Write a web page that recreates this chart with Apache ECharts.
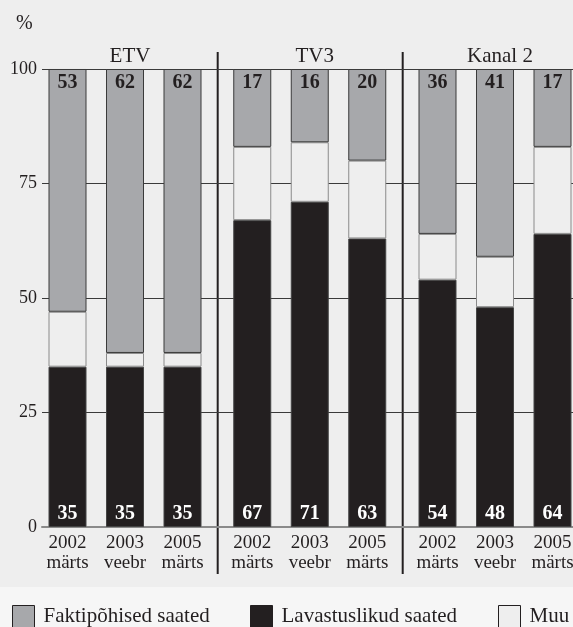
<!DOCTYPE html>
<html>
<head>
<meta charset="utf-8">
<script src="https://cdn.jsdelivr.net/npm/echarts@6/dist/echarts.min.js"></script>
<style>
  html, body { margin: 0; padding: 0; background: #eeeeee; overflow: hidden; }
  /* a bit wider than the window: the original figure is cut off at the right */
  #chart { width: 584px; height: 627px; }
</style>
</head>
<body>
<div id="chart"></div>
<script>
var channels = ['ETV', 'TV3', 'Kanal 2'];
var periods = ['2002\nmärts', '2003\nveebr', '2005\nmärts'];
var yTicks = [0, 25, 50, 75, 100];
// one row per channel
var fakti = [[53, 62, 62], [17, 16, 20], [36, 41, 17]];
var lavastus = [[35, 35, 35], [67, 71, 63], [54, 48, 64]];
var muu = [[12, 3, 3], [16, 13, 17], [10, 11, 19]];

var seriesNames = ['Faktipõhised saated', 'Lavastuslikud saated', 'Muu'];
var serif = '"Liberation Serif", "Times New Roman", serif';
var ink = '#231f20';
var grey = '#a7a8ab';
var bg = '#eeeeee';

var chart = echarts.init(document.getElementById('chart'));

var groupLeft = [38.75, 223.5, 408.75];
var groupWidth = 172.5;

var grids = [{ left: 42, right: 0, top: 69, bottom: 100 }];
var xAxes = [{
    gridIndex: 0, type: 'value', min: 0, max: 1,
    axisLabel: { show: false }, axisTick: { show: false }, splitLine: { show: false },
    axisLine: { show: true, lineStyle: { color: '#8a8a8a', width: 2 } }
}];
var yAxes = [{
    gridIndex: 0, type: 'value', min: 0, max: 100, interval: 25,
    axisLine: { show: false }, axisTick: { show: false },
    axisLabel: { color: ink, fontFamily: serif, fontSize: 18, margin: 5,
        formatter: function (v) { return yTicks.indexOf(v) >= 0 ? v : ''; } },
    splitLine: { show: true, lineStyle: { color: '#3a3a3a', width: 1 } }
}];
var series = [];
var titles = [{ text: '%', left: 11, top: 9, textStyle: { fontFamily: serif, fontSize: 20, fontWeight: 'normal', color: ink } }];

channels.forEach(function (ch, i) {
    var g = i + 1;
    grids.push({ left: groupLeft[i], width: groupWidth, top: 69, bottom: 100 });
    xAxes.push({
        gridIndex: g, type: 'category', data: periods,
        axisLine: { show: false }, axisTick: { show: false },
        axisLabel: { interval: 0, color: ink, fontFamily: serif, fontSize: 19, lineHeight: 20, margin: 6 }
    });
    yAxes.push({ gridIndex: g, type: 'value', min: 0, max: 100, show: false });
    titles.push({
        text: ch, left: groupLeft[i] + groupWidth / 2, top: 41, textAlign: 'center',
        textStyle: { fontFamily: serif, fontSize: 21, fontWeight: 'normal', color: ink }
    });

    series.push({
        name: seriesNames[1], type: 'bar', stack: 's' + i, xAxisIndex: g, yAxisIndex: g,
        barWidth: 38, data: lavastus[i],
        itemStyle: { color: ink, borderColor: '#444', borderWidth: 1 },
        label: { show: true, position: 'insideBottom', distance: 3, color: '#fff',
            fontFamily: serif, fontWeight: 'bold', fontSize: 20 }
    });
    series.push({
        name: seriesNames[2], type: 'bar', stack: 's' + i, xAxisIndex: g, yAxisIndex: g,
        barWidth: 38, data: muu[i],
        itemStyle: { color: bg, borderColor: '#8a8a8a', borderWidth: 1 }
    });
    series.push({
        name: seriesNames[0], type: 'bar', stack: 's' + i, xAxisIndex: g, yAxisIndex: g,
        barWidth: 38, data: fakti[i],
        itemStyle: { color: grey, borderColor: '#3a3a3a', borderWidth: 1 },
        label: { show: true, position: 'insideTop', distance: 4, color: ink,
            fontFamily: serif, fontWeight: 'bold', fontSize: 20 }
    });
});

var legendLeft = [12, 250, 498];
var legendColors = [grey, ink, bg];
var legends = seriesNames.map(function (n, i) {
    return {
        data: [n], left: legendLeft[i], top: 605, padding: 0,
        icon: 'rect', itemWidth: 22, itemHeight: 22, selectedMode: false,
        itemStyle: { color: legendColors[i], borderColor: ink, borderWidth: 1 },
        textStyle: { fontFamily: serif, fontSize: 21, color: ink, padding: [0, 0, 0, 4] }
    };
});

option = {
    backgroundColor: bg,
    animation: false,
    title: titles,
    legend: legends,
    grid: grids,
    xAxis: xAxes,
    yAxis: yAxes,
    series: series,
    graphic: [
        { type: 'rect', z: -10, shape: { x: 0, y: 587, width: 584, height: 40 }, style: { fill: '#f6f6f6' } },
        { type: 'line', shape: { x1: 217.7, y1: 52, x2: 217.7, y2: 574 }, style: { stroke: ink, lineWidth: 2 } },
        { type: 'line', shape: { x1: 402.7, y1: 52, x2: 402.7, y2: 574 }, style: { stroke: ink, lineWidth: 2 } }
    ]
};

chart.setOption(option);
</script>
</body>
</html>
